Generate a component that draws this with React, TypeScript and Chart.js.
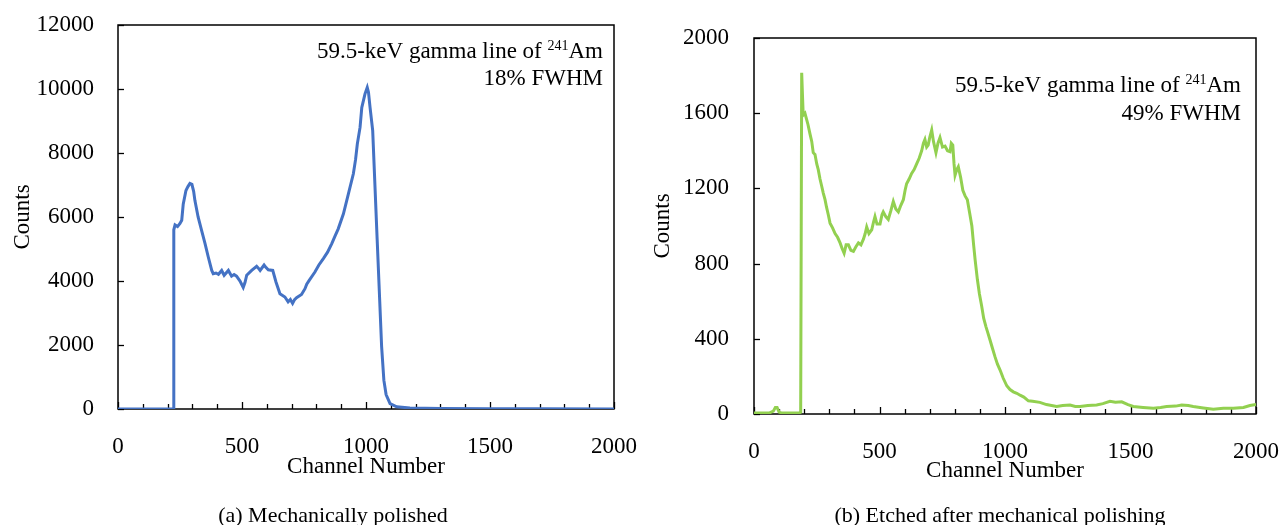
import React, { useEffect, useRef } from 'react';
import { Chart, registerables } from 'chart.js';
Chart.register(...registerables);

// ---- Data ----
const leftChannels = [0, 100, 200, 222, 225, 230, 240, 250, 257, 263, 274, 282, 290, 298, 305, 310, 323, 337, 351, 364, 378, 384, 395, 405, 418, 428, 445, 458, 468, 478, 492, 505, 512, 519, 539, 559, 566, 573, 589, 597, 606, 624, 637, 653, 673, 686, 695, 704, 712, 720, 740, 754, 761, 771, 794, 810, 828, 845, 862, 875, 888, 909, 929, 949, 958, 965, 976, 983, 996, 1005, 1010, 1016, 1027, 1045, 1063, 1072, 1081, 1097, 1124, 1177, 1300, 1500, 1700, 2000];
const leftCounts = [0, 0, 0, 0, 5600, 5750, 5700, 5800, 5900, 6400, 6830, 6950, 7050, 7020, 6800, 6520, 6000, 5580, 5170, 4750, 4330, 4230, 4250, 4210, 4330, 4180, 4330, 4150, 4200, 4150, 4000, 3800, 3950, 4180, 4330, 4460, 4400, 4330, 4500, 4420, 4350, 4330, 3970, 3600, 3500, 3350, 3420, 3300, 3420, 3480, 3580, 3760, 3900, 4020, 4280, 4500, 4700, 4900, 5170, 5400, 5630, 6100, 6720, 7350, 7800, 8280, 8800, 9420, 9850, 10050, 9900, 9450, 8700, 5300, 1950, 900, 450, 170, 70, 30, 15, 10, 5, 0];

const rightChannels = [0, 60, 77, 85, 92, 100, 110, 180, 186, 190, 193, 196, 203, 209, 215, 223, 230, 236, 243, 250, 256, 263, 270, 276, 283, 289, 296, 303, 313, 323, 333, 343, 351, 359, 367, 376, 386, 396, 406, 416, 426, 436, 443, 449, 458, 469, 476, 482, 490, 502, 510, 515, 525, 535, 545, 555, 565, 575, 585, 595, 602, 608, 618, 628, 638, 648, 658, 668, 675, 681, 688, 694, 700, 708, 715, 725, 733, 741, 751, 761, 771, 781, 786, 792, 797, 801, 808, 814, 823, 832, 841, 850, 859, 868, 875, 881, 890, 898, 907, 915, 924, 932, 940, 950, 960, 970, 980, 993, 1007, 1020, 1033, 1047, 1060, 1075, 1093, 1110, 1139, 1165, 1206, 1230, 1259, 1280, 1299, 1330, 1365, 1390, 1418, 1440, 1465, 1490, 1511, 1550, 1591, 1620, 1644, 1680, 1704, 1730, 1750, 1790, 1830, 1870, 1910, 1950, 1976, 2000];
const rightCounts = [5, 5, 15, 35, 35, 10, 5, 5, 10, 1815, 1700, 1590, 1600, 1570, 1540, 1490, 1450, 1390, 1380, 1330, 1300, 1250, 1210, 1175, 1140, 1100, 1060, 1015, 990, 960, 940, 910, 880, 855, 900, 900, 870, 865, 890, 910, 900, 930, 960, 995, 960, 980, 1020, 1050, 1010, 1010, 1060, 1075, 1050, 1035, 1080, 1130, 1090, 1075, 1110, 1140, 1190, 1225, 1250, 1280, 1300, 1330, 1360, 1400, 1440, 1460, 1420, 1430, 1470, 1510, 1450, 1390, 1440, 1470, 1420, 1425, 1400, 1395, 1440, 1430, 1330, 1270, 1300, 1315, 1260, 1190, 1160, 1140, 1070, 1000, 900, 820, 715, 640, 575, 510, 465, 430, 395, 350, 305, 265, 235, 190, 150, 130, 118, 110, 100, 90, 70, 68, 62, 50, 40, 45, 48, 40, 40, 45, 48, 55, 68, 62, 65, 50, 40, 35, 30, 35, 40, 42, 48, 45, 40, 32, 25, 30, 30, 35, 45, 50];

const xTitle = 'Channel Number';
const yTitle = 'Counts';
const annotationPrefix = '59.5-keV gamma line of ';
const annotationSup = '241';
const annotationElement = 'Am';
const leftFwhm = '18% FWHM';
const rightFwhm = '49% FWHM';
const leftCaption = '(a) Mechanically polished';
const rightCaption = '(b) Etched after mechanical polishing';

const FONT = '"Liberation Serif", "Times New Roman", serif';
const W = 640;
const H = 525;

const framePlugin = {
  id: 'frame',
  beforeDatasetsDraw(chart: any, _args: any, opts: any) {
    const { ctx, chartArea: a, scales } = chart;
    ctx.save();
    ctx.strokeStyle = '#000';
    ctx.lineWidth = 1.5;
    ctx.strokeRect(a.left, a.top, a.right - a.left, a.bottom - a.top);
    ctx.lineWidth = 1.3;
    const ys = scales.y;
    ys.ticks.forEach((t: any) => {
      const py = Math.round(ys.getPixelForValue(t.value)) + 0.5;
      ctx.beginPath();
      ctx.moveTo(a.left, py);
      ctx.lineTo(a.left + 6, py);
      ctx.stroke();
    });
    const xs = scales.x;
    for (let v = xs.min; v <= xs.max; v += opts.minorStep) {
      const px = Math.round(xs.getPixelForValue(v)) + 0.5;
      const len = v % opts.majorStep === 0 ? 7 : 5;
      ctx.beginPath();
      ctx.moveTo(px, a.bottom);
      ctx.lineTo(px, a.bottom - len);
      ctx.stroke();
    }
    // annotation
    ctx.fillStyle = '#000';
    ctx.textBaseline = 'middle';
    const main = `23px ${FONT}`;
    const sup = `14px ${FONT}`;
    const right = a.right - opts.inset;
    const y1 = a.top + opts.line1;
    ctx.font = main;
    const wPre = ctx.measureText(annotationPrefix).width;
    const wAm = ctx.measureText(annotationElement).width;
    ctx.font = sup;
    const wSup = ctx.measureText(annotationSup).width;
    let x = right - wAm - wSup - wPre;
    ctx.textAlign = 'left';
    ctx.font = main;
    ctx.fillText(annotationPrefix, x, y1);
    x += wPre;
    ctx.font = sup;
    ctx.fillText(annotationSup, x, y1 - 6);
    x += wSup;
    ctx.font = main;
    ctx.fillText(annotationElement, x, y1);
    ctx.textAlign = 'right';
    ctx.fillText(opts.fwhm, right, a.top + opts.line2);
    ctx.restore();
  },
};

type Cfg = {
  channels: number[];
  counts: number[];
  color: string;
  left: number;
  right: number;
  top: number;
  bottom: number;
  ymax: number;
  ystep: number;
  xTickGap: number;
  yTickGap: number;
  xTitleBottom: number;
  yTitleTop: number;
  fwhm: string;
  inset: number;
  line1: number;
  line2: number;
};

function makeChart(canvas: HTMLCanvasElement, c: Cfg) {
  const tickFont = { family: FONT, size: 23 };
  const pad = { left: 0, top: c.top, right: W - c.right, bottom: 0 };
  const geom = { yw: c.left, xh: H - c.bottom };
  const chart = new Chart(canvas, {
    type: 'scatter',
    data: {
      datasets: [
        {
          data: c.channels.map((ch, i) => ({ x: ch, y: c.counts[i] })),
          showLine: true,
          borderColor: c.color,
          backgroundColor: c.color,
          borderWidth: 3,
          pointRadius: 0,
          tension: 0,
        },
      ],
    },
    options: {
      responsive: false,
      animation: false,
      devicePixelRatio: 1,
      layout: { padding: pad, autoPadding: false },
      plugins: {
        legend: { display: false },
        tooltip: { enabled: false },
        frame: {
          minorStep: 100,
          majorStep: 500,
          fwhm: c.fwhm,
          inset: c.inset,
          line1: c.line1,
          line2: c.line2,
        },
      } as any,
      scales: {
        x: {
          type: 'linear',
          min: 0,
          max: 2000,
          ticks: { stepSize: 500, font: tickFont, color: '#000', padding: 0, maxRotation: 0, autoSkip: false, format: { useGrouping: false } },
          grid: { display: false, drawTicks: true, tickLength: c.xTickGap },
          border: { display: false },
          title: { display: true, text: xTitle, font: { family: FONT, size: 23, lineHeight: 1 }, color: '#000', padding: { top: 0, bottom: c.xTitleBottom } },
          afterFit: (s: any) => {
            s.height = geom.xh;
          },
        },
        y: {
          type: 'linear',
          min: 0,
          max: c.ymax,
          ticks: { stepSize: c.ystep, font: tickFont, color: '#000', padding: 0, format: { useGrouping: false } },
          grid: { display: false, drawTicks: true, tickLength: c.yTickGap },
          border: { display: false },
          title: { display: true, text: yTitle, font: { family: FONT, size: 23, lineHeight: 1 }, color: '#000', padding: { top: c.yTitleTop, bottom: 0 } },
          afterFit: (s: any) => {
            s.width = geom.yw;
          },
        },
      },
    } as any,
    plugins: [framePlugin],
  });
  // nudge the layout so the plot box lands where the reference has it
  for (let k = 0; k < 12; k++) {
    const a = chart.chartArea;
    const eTop = c.top - a.top;
    const eRight = a.right - c.right;
    const eLeft = c.left - a.left;
    const eBottom = a.bottom - c.bottom;
    if (Math.abs(eTop) < 0.3 && Math.abs(eRight) < 0.3 && Math.abs(eLeft) < 0.3 && Math.abs(eBottom) < 0.3) break;
    pad.top = Math.max(0, pad.top + eTop * 0.6);
    pad.right = Math.max(0, pad.right + eRight * 0.6);
    geom.yw = geom.yw + eLeft * 0.6;
    geom.xh = geom.xh + eBottom * 0.6;
    chart.update();
  }
  return chart;
}

function SpectrumChart({ cfg }: { cfg: Cfg }) {
  const ref = useRef<HTMLCanvasElement | null>(null);
  useEffect(() => {
    if (!ref.current) return;
    const chart = makeChart(ref.current, cfg);
    return () => chart.destroy();
  }, [cfg]);
  return <canvas ref={ref} width={W} height={H} style={{ width: W, height: H, display: 'block' }} />;
}

const leftCfg: Cfg = {
  channels: leftChannels,
  counts: leftCounts,
  color: '#4472C4',
  left: 118,
  right: 614,
  top: 25,
  bottom: 409,
  ymax: 12000,
  ystep: 2000,
  xTickGap: 24,
  yTickGap: 24,
  xTitleBottom: 47,
  yTitleTop: 11,
  fwhm: leftFwhm,
  inset: 11,
  line1: 27,
  line2: 54,
};

const rightCfg: Cfg = {
  channels: rightChannels,
  counts: rightCounts,
  color: '#92D050',
  left: 114,
  right: 616,
  top: 38,
  bottom: 414,
  ymax: 2000,
  ystep: 400,
  xTickGap: 24,
  yTickGap: 25,
  xTitleBottom: 43,
  yTitleTop: 11,
  fwhm: rightFwhm,
  inset: 15,
  line1: 48,
  line2: 76,
};

const captionStyle: React.CSSProperties = {
  position: 'absolute',
  top: 503,
  height: 24,
  lineHeight: '24px',
  fontFamily: FONT,
  fontSize: 22,
  color: '#000',
  whiteSpace: 'nowrap',
  transform: 'translateX(-50%)',
};

export default function App() {
  return (
    <div style={{ position: 'absolute', left: 0, top: 0, width: 1280, height: 525, background: '#fff', overflow: 'hidden' }}>
      <div style={{ position: 'absolute', left: 0, top: 0 }}>
        <SpectrumChart cfg={leftCfg} />
      </div>
      <div style={{ position: 'absolute', left: 640, top: 0 }}>
        <SpectrumChart cfg={rightCfg} />
      </div>
      <div style={{ ...captionStyle, left: 333 }}>{leftCaption}</div>
      <div style={{ ...captionStyle, left: 1000 }}>{rightCaption}</div>
    </div>
  );
}
